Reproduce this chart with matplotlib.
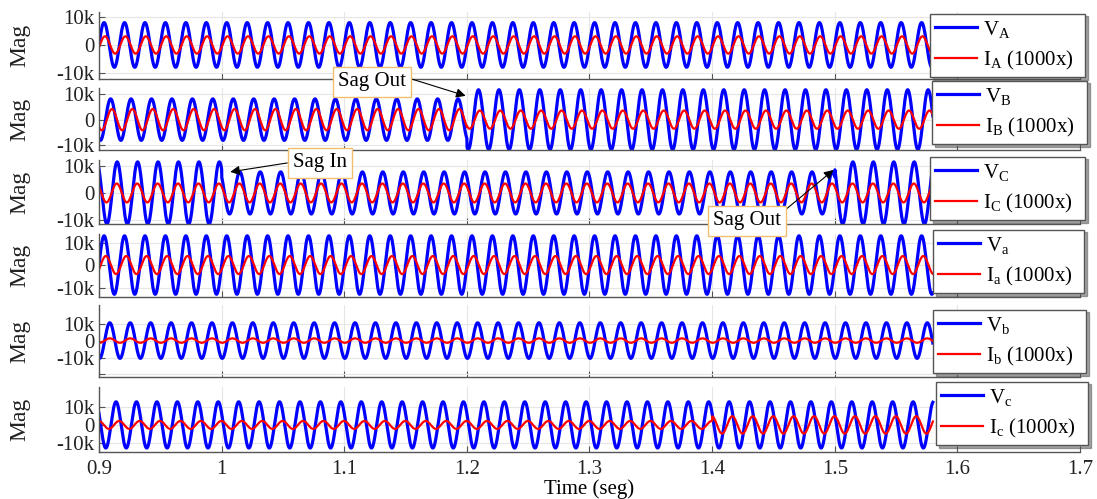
import numpy as np
import matplotlib
matplotlib.use("Agg")
import matplotlib.pyplot as plt

plt.rcParams['font.family'] = ['Liberation Serif', 'DejaVu Serif']
plt.rcParams['mathtext.fontset'] = 'custom'
plt.rcParams['mathtext.rm'] = 'Liberation Serif'

# waveform data
t_start, t_end = 0.9, 1.58
freq = 60
phase_names = ['A', 'B', 'C', 'a', 'b', 'c']
v_change_t = [[], [1.2], [1.0, 1.5], [], [], []]
v_amp = [[8000], [8200, 11800], [11500, 7800, 11500], [13000], [10500], [12800]]
v_phase_deg = [0, -115, 130, 0, -100, 150]
i_change_t = [[], [1.2], [], [], [], [1.4]]
i_amp = [[3100], [4200, 3600], [3500], [4000], [1300], [2200, 4800]]
i_phase_deg = [-15, -138, 138, -30, -100, 95]

# layout (pixels of the 1097x499 picture)
W, H = 1097, 499
ax_rows = [(12, 79), (88, 150), (160, 224), (234, 297), (305, 377), (387, 452)]
ylims = [(-12200, 11800), (-12000, 12500), (-11500, 12200),
         (-14200, 13800), (-21500, 21000), (-15000, 21000)]
leg_box = [(930, 14, 1085), (932, 81, 1087), (930, 157, 1085),
           (933, 230, 1084), (933, 310, 1086), (936, 382, 1088)]


def wave(t, change_t, amps, phase):
    amp = np.array(amps)[np.searchsorted(change_t, t, side='right')]
    return amp * np.sin(2 * np.pi * freq * t + np.deg2rad(phase))


t = np.arange(t_start, t_end, 1 / 12000)

fig = plt.figure(figsize=(W / 100, H / 100), dpi=100)
x0, x1 = 99, 1080
axes = []
for k, (yt, yb) in enumerate(ax_rows):
    ax = fig.add_axes([x0 / W, 1 - yb / H, (x1 - x0) / W, (yb - yt) / H])
    axes.append(ax)
    name = phase_names[k]
    ax.plot(t, wave(t, v_change_t[k], v_amp[k], v_phase_deg[k]), color='#0000ff', lw=2.3,
            label=r'$\mathregular{V_{%s}}$' % name)
    ax.plot(t, wave(t, i_change_t[k], i_amp[k], i_phase_deg[k]), color='#ff0000', lw=1.6,
            label=r'$\mathregular{I_{%s}}$ (1000x)' % name)
    ax.set_xlim(0.9, 1.7)
    ax.set_ylim(*ylims[k])
    ax.set_xticks(np.arange(0.9, 1.71, 0.1))
    if k == 4:
        ax.set_yticks([-20000, -10000, 0, 10000])
        ax.set_yticklabels(['', '-10k', '0', '10k'])
    else:
        ax.set_yticks([-10000, 0, 10000])
        ax.set_yticklabels(['-10k', '0', '10k'])
    if k < 5:
        ax.set_xticklabels([])
    else:
        ax.set_xticklabels(['0.9', '1', '1.1', '1.2', '1.3', '1.4', '1.5', '1.6', '1.7'])
        ax.set_xlabel('Time (seg)', fontsize=15, labelpad=0)
    ax.grid(True, color='#e6e6e6', lw=0.8)
    ax.set_axisbelow(True)
    for s in ['top', 'right']:
        ax.spines[s].set_visible(False)
    for s in ['left', 'bottom']:
        ax.spines[s].set_color('#555555')
        ax.spines[s].set_linewidth(1.0)
    ax.tick_params(direction='in', length=4, colors='#555555', labelcolor='#222222',
                   labelsize=15, pad=3)
    ax.tick_params(axis='x', pad=6)
    ax.set_ylabel('Mag', fontsize=17, color='#222222')
    ax.yaxis.set_label_coords(-0.07, 0.5)

    lx, ly, rx = leg_box[k]
    leg = ax.legend(loc='upper left',
                    bbox_to_anchor=(lx / W, 1 - ly / H, (rx - lx) / W, 0.001),
                    bbox_transform=fig.transFigure, mode='expand',
                    fontsize=15, frameon=True, fancybox=False, shadow=True,
                    edgecolor='#555555', framealpha=1, borderpad=0.25,
                    labelspacing=0.45, handlelength=2.0, handletextpad=0.3,
                    borderaxespad=0)
    leg.get_frame().set_linewidth(1.0)

box = dict(boxstyle='square,pad=0.25', fc='white', ec='#f0c070', lw=1.0)
arrow = dict(arrowstyle='-|>', color='k', lw=0.8, shrinkA=0, shrinkB=0, mutation_scale=14)

axes[1].annotate('Sag Out', xy=(1.199, 9400), xycoords='data',
                 xytext=(372 / W, 1 - 82 / H), textcoords='figure fraction',
                 fontsize=15, ha='center', va='center', bbox=box,
                 arrowprops=dict(arrow, relpos=(1.0, 0.75)), annotation_clip=False)
axes[2].annotate('Sag In', xy=(1.007, 7800), xycoords='data',
                 xytext=(320 / W, 1 - 163 / H), textcoords='figure fraction',
                 fontsize=15, ha='center', va='center', bbox=box,
                 arrowprops=dict(arrow, relpos=(0.0, 0.55)), annotation_clip=False)
axes[2].annotate('Sag Out', xy=(1.499, 8500), xycoords='data',
                 xytext=(747 / W, 1 - 221 / H), textcoords='figure fraction',
                 fontsize=15, ha='center', va='center', bbox=box,
                 arrowprops=dict(arrow, relpos=(1.0, 0.9)), annotation_clip=False)
axes[2].set_zorder(2)

fig.savefig('out.png', dpi=100)
